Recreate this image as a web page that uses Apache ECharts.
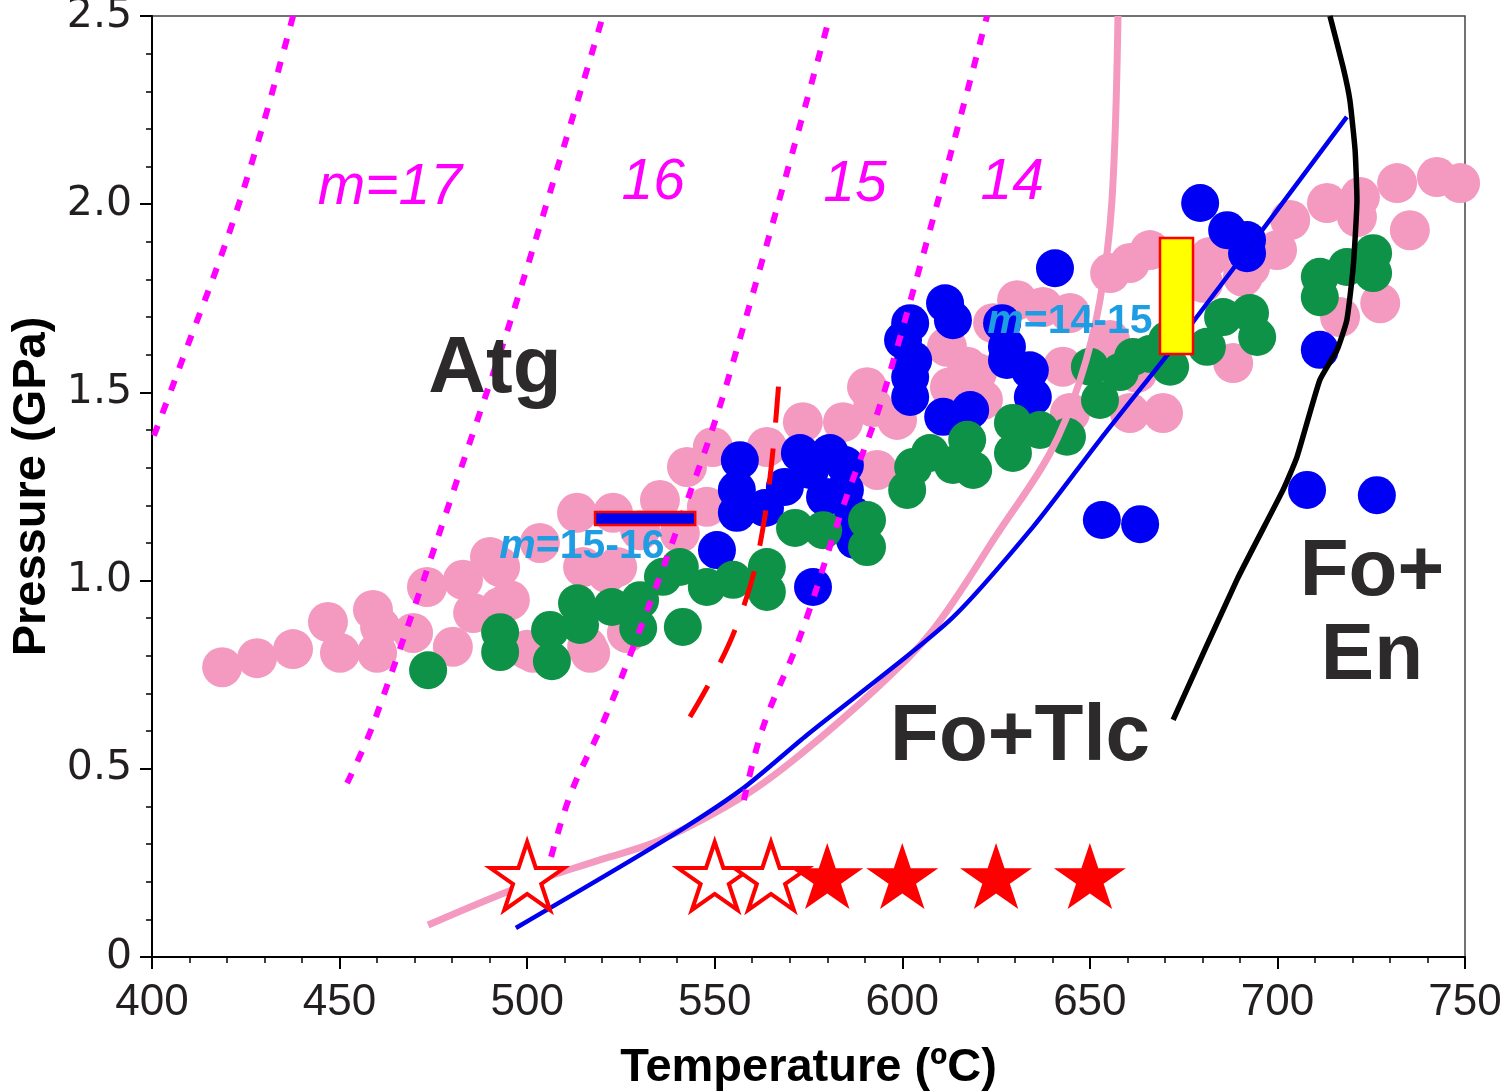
<!DOCTYPE html>
<html><head><meta charset="utf-8">
<script src="https://cdn.jsdelivr.net/npm/echarts@6/dist/echarts.min.js"></script>
<style>html,body{margin:0;padding:0;background:#fff}#c{width:1509px;height:1091px}</style>
</head><body><div id="c"></div>
<script>
// ---- axes ----
const xRange = [400, 750];
const yRange = [0, 2.5];

// ---- dot clusters [T (°C), P (GPa)] ----
const pinkDots = [
 [418.7,0.770],[428.0,0.794],[437.6,0.818],[446.9,0.890],[450.1,0.808],[458.9,0.922],[460.0,0.808],
 [460.8,0.877],[469.6,0.861],[473.3,0.983],[480.2,0.824],[482.9,1.002],[485.6,0.914],[490.1,1.063],
 [492.8,1.036],[492.8,0.930],[495.4,0.948],[500.0,0.816],[501.6,0.808],[503.4,1.100],[513.3,1.180],
 [514.9,1.036],[516.0,0.824],[516.8,0.808],[521.3,1.020],[522.9,1.180],[524.0,1.036],[526.6,0.861],
 [530.1,1.134],[535.4,1.214],[540.7,1.126],[542.6,1.302],[549.5,1.355],[547.9,1.196],[563.9,1.355],
 [573.5,1.421],[584.2,1.421],[590.6,1.514],[592.2,1.461],[593.3,1.294],[598.6,1.427],[611.9,1.621],
 [612.7,1.514],[617.3,1.568],[619.9,1.552],[621.5,1.480],[624.2,1.684],[630.6,1.745],[637.5,1.727],
 [642.8,1.568],[644.7,1.711],[644.7,1.445],[655.4,1.817],[655.4,1.639],[660.7,1.844],[660.7,1.445],
 [662.6,1.552],[666.0,1.878],[669.5,1.445],[680.2,1.791],[682.0,1.860],[688.2,1.578],[690.8,1.807],
 [692.7,1.833],[699.9,1.878],[703.4,1.958],[713.2,2.003],[716.7,1.700],[721.2,1.966],[722.0,2.019],
 [727.4,1.737],[731.9,2.056],[735.3,1.931],[742.5,2.072],[748.7,2.056]
];
const greenDots = [
 [473.6,0.762],[492.8,0.863],[492.8,0.810],[506.1,0.869],[506.6,0.786],[513.3,0.940],[514.1,0.882],
 [522.6,0.930],[529.6,0.874],[530.1,0.948],[536.2,1.010],[540.7,1.036],[541.5,0.877],[547.9,0.983],
 [554.9,1.002],[563.9,1.036],[563.9,0.970],[571.4,1.140],[578.9,1.134],[590.6,1.161],[590.6,1.089],
 [601.3,1.241],[602.9,1.302],[607.4,1.339],[613.5,1.307],[617.3,1.374],[618.9,1.294],[629.5,1.419],
 [629.5,1.339],[636.7,1.400],[643.9,1.382],[650.0,1.568],[652.7,1.480],[658.0,1.554],[661.5,1.594],
 [666.0,1.602],[670.6,1.639],[671.4,1.568],[681.2,1.621],[685.5,1.700],[692.7,1.711],[694.6,1.647],
 [711.3,1.753],[711.3,1.807],[718.5,1.833],[725.5,1.870],[725.5,1.817]
];
const blueDots = [
 [556.7,1.320],[555.9,1.241],[555.9,1.180],[550.6,1.081],[563.4,1.193],[568.7,1.249],[572.7,1.339],
 [580.7,1.339],[584.7,1.307],[584.7,1.241],[579.4,1.222],[586.9,1.174],[587.4,1.108],[576.2,0.983],
 [575.4,1.294],[600.2,1.639],[602.1,1.684],[602.9,1.586],[602.1,1.541],[602.1,1.488],[610.9,1.435],
 [618.1,1.453],[611.4,1.737],[613.5,1.692],[626.6,1.684],[627.9,1.621],[627.9,1.586],[634.0,1.559],
 [634.8,1.488],[640.7,1.830],[679.4,2.003],[686.6,1.931],[691.9,1.905],[691.9,1.870],[711.3,1.613],
 [707.9,1.241],[726.5,1.227],[653.2,1.161],[663.4,1.150]
];

// ---- curves [T, P] ----
const mLine17 = [[400.5,1.385],[406.1,1.533],[423.5,2.011],[437.6,2.5]];
const mLine16 = [[452.0,0.462],[459.4,0.630],[486.1,1.408],[497.3,1.745],[520.2,2.5]];
const mLine15 = [[506.4,0.266],[511.7,0.436],[520.2,0.622],[529.3,0.850],[542.1,1.196],[553.5,1.533],[580.7,2.5]];
const mLine14 = [[557.8,0.417],[562.9,0.611],[572.7,0.850],[584.2,1.196],[595.9,1.525],[622.6,2.5]];
const redDashed = [[543.4,0.638],[555.4,0.869],[562.9,1.142],[567.4,1.573]];
const pinkCurve = [[473.6,0.085],[500.0,0.194],[519.4,0.258],[535.4,0.310],[558.1,0.430],
 [572.7,0.537],[594.1,0.723],[608.2,0.869],[626.0,1.134],[639.4,1.339],[647.4,1.533],
 [652.7,1.745],[655.9,2.011],[657.5,2.5]];
const blueCurve = [[497.0,0.077],[535.4,0.303],[557.0,0.444],[574.6,0.590],[612.7,0.895],[634.8,1.142],
 [652.7,1.374],[677.5,1.687],[718.5,2.232]];
const blackCurve = [[672.2,0.630],[689.2,1.002],[701.5,1.241],[705.2,1.328],[711.3,1.533],[715.9,1.613],
 [718.5,1.692],[720.2,1.833],[721.2,2.011],[720.7,2.144],[719.3,2.277],[717.5,2.364],[714.0,2.5]];

// ---- stars ----
const openStars = [[500,0.215],[550,0.215],[565,0.215]];
const filledStars = [[580,0.215],[600,0.215],[625,0.215],[650,0.215]];

// ---- boxes [T1, T2, P1, P2] ----
const blueBar = [[518.1,544.8,1.148,1.182]];
const yellowBox = [[668.7,677.5,1.602,1.910]];

const STAR = 'path://M50,0 L61.2,34.5 L97.6,34.5 L68.2,55.9 L79.4,90.5 L50,69.1 L20.6,90.5 L31.8,55.9 L2.4,34.5 L38.8,34.5 Z';

const chart = echarts.init(document.getElementById('c'), null, {renderer:'canvas'});

function rectSeries(data, fill, z){
  return {
    type:'custom', z:z, silent:true,
    data:data,
    renderItem:function(params, api){
      const p1 = api.coord([api.value(0), api.value(3)]);
      const p2 = api.coord([api.value(1), api.value(2)]);
      return {type:'rect', shape:{x:p1[0], y:p1[1], width:p2[0]-p1[0], height:p2[1]-p1[1]},
        style:{fill:fill, stroke:'#ff0000', lineWidth:2.5}};
    }
  };
}
function lineSeries(data, color, width, type, z, smooth){
  return {type:'line', data:data, symbol:'none', smooth:smooth, z:z, silent:true,
    lineStyle:{color:color, width:width, type:type, cap:'butt'}};
}
const labelFont = 'Liberation Sans, Arial, sans-serif';
function ann(pos, text, style){
  return {value:pos, label:Object.assign({show:true, formatter:text, position:'inside', opacity:1}, style)};
}
const magentaLbl = {color:'#ff00ff', fontSize:57, fontStyle:'italic', fontFamily:labelFont};
const bigLbl = {color:'#2d2a2b', fontSize:80, fontWeight:'bold', fontFamily:labelFont, lineHeight:84};
const cyanRich = {
  i:{color:'#1e9de2', fontSize:41, fontWeight:'bold', fontStyle:'italic', fontFamily:labelFont},
  b:{color:'#1e9de2', fontSize:41, fontWeight:'bold', fontFamily:labelFont}
};

chart.setOption({
  animation:false,
  backgroundColor:'#fff',
  grid:{left:152, right:44, top:16, bottom:134, containLabel:false, outerBoundsMode:'none',
    show:true, borderColor:'#444', borderWidth:1.5, backgroundColor:'transparent'},
  xAxis:{
    type:'value', min:xRange[0], max:xRange[1], interval:50,
    name:'Temperature (ºC)', nameLocation:'middle', nameGap:88,
    nameTextStyle:{fontSize:47, fontWeight:'bold', color:'#000', fontFamily:labelFont},
    axisLine:{show:true, onZero:false, lineStyle:{color:'#000', width:2}},
    axisTick:{show:true, inside:false, length:12, lineStyle:{color:'#000', width:2}},
    minorTick:{show:true, splitNumber:5, length:6, lineStyle:{color:'#000', width:1.5}},
    axisLabel:{fontSize:44, color:'#231f20', margin:24, fontFamily:labelFont},
    splitLine:{show:false}
  },
  yAxis:{
    type:'value', min:yRange[0], max:yRange[1], interval:0.5,
    name:'Pressure (GPa)', nameLocation:'middle', nameGap:96, nameRotate:90,
    nameTextStyle:{fontSize:47, fontWeight:'bold', color:'#000', fontFamily:labelFont},
    axisLine:{show:true, onZero:false, lineStyle:{color:'#000', width:2}},
    axisTick:{show:true, inside:false, length:12, lineStyle:{color:'#000', width:2}},
    minorTick:{show:true, splitNumber:5, length:6, lineStyle:{color:'#000', width:1.5}},
    axisLabel:{fontSize:41, color:'#231f20', margin:20, fontFamily:'DejaVu Sans, sans-serif',
      formatter:function(v){return v===0?'0':v.toFixed(1);}},
    splitLine:{show:false}
  },
  series:[
    {type:'scatter', data:pinkDots, symbolSize:40, z:2, silent:true, itemStyle:{color:'#f49ac1', opacity:1}},
    {type:'scatter', data:blueDots, symbolSize:38, z:3, silent:true, itemStyle:{color:'#0000f5', opacity:1}},
    {type:'scatter', data:greenDots, symbolSize:38, z:4, silent:true, itemStyle:{color:'#0e9247', opacity:1}},
    lineSeries(pinkCurve, '#f49ac1', 7, 'solid', 5, 0.35),
    lineSeries(blueCurve, '#0000f0', 4.5, 'solid', 6, 0.25),
    lineSeries(blackCurve, '#000', 5.5, 'solid', 6, 0.15),
    lineSeries(mLine17, '#ff00ff', 6, [11,13], 7, 0.4),
    lineSeries(mLine16, '#ff00ff', 6, [11,13], 7, 0.4),
    lineSeries(mLine15, '#ff00ff', 6, [11,13], 7, 0.4),
    lineSeries(mLine14, '#ff00ff', 6, [11,13], 7, 0.4),
    lineSeries(redDashed, '#ff0000', 5, [36,26], 7, 0.4),
    rectSeries(blueBar, '#0000f0', 8),
    rectSeries(yellowBox, '#ffff00', 8),
    {type:'scatter', data:openStars, symbol:STAR, symbolSize:[74,68], z:9, silent:true,
      itemStyle:{color:'#fff', borderColor:'#ff0000', borderWidth:4, opacity:1}},
    {type:'scatter', data:filledStars, symbol:STAR, symbolSize:[72,66], z:9, silent:true,
      itemStyle:{color:'#ff0000', opacity:1}},
    {type:'scatter', symbol:'circle', symbolSize:1, z:10, silent:true,
      itemStyle:{color:'rgba(0,0,0,0)', opacity:1}, data:[
      ann([463.4,2.043], 'm=17', magentaLbl),
      ann([533.6,2.056], '16', magentaLbl),
      ann([587.4,2.051], '15', magentaLbl),
      ann([629.3,2.056], '14', magentaLbl),
      ann([491.4,1.560], 'Atg', bigLbl),
      ann([631.4,0.582], 'Fo+Tlc', bigLbl),
      ann([725.2,0.908], 'Fo+\nEn', bigLbl),
      ann([514.6,1.089], '{i|m}{b|=15-16}', {rich:cyanRich}),
      ann([644.7,1.687], '{i|m}{b|=14-15}', {rich:cyanRich})
    ]}
  ]
});
</script></body></html>
